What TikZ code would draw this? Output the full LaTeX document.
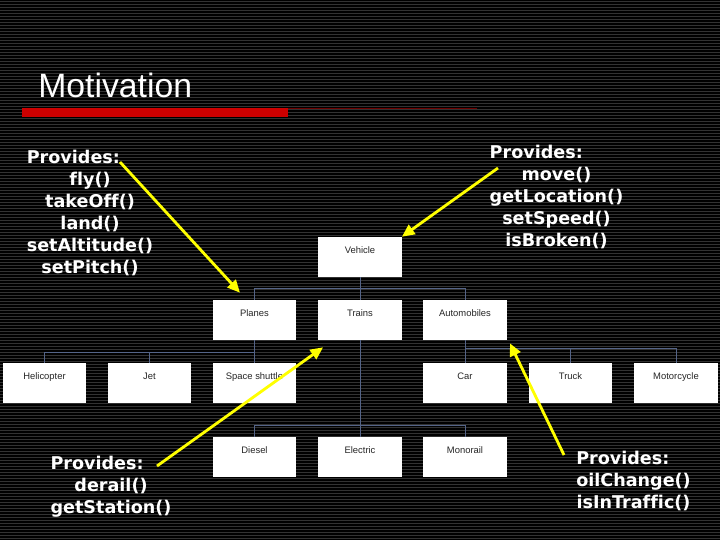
\documentclass[tikz,border=0pt]{standalone}
\usepackage{fontspec}
\usetikzlibrary{arrows.meta, calc}
\newfontfamily\boxfont{Liberation Sans}
\newfontfamily\notefont[Ligatures={NoCommon}]{DejaVu Sans}
\definecolor{stripe}{RGB}{50,50,50}
\definecolor{linkblue}{RGB}{84,100,136}
\definecolor{barred}{RGB}{204,0,0}
\definecolor{darkred}{RGB}{110,0,0}
\definecolor{hiyellow}{RGB}{255,255,0}
\newcommand{\provhead}[1]{\multicolumn{1}{@{}l@{}}{#1}}
\tikzset{
  classbox/.style={rectangle, fill=white, inner sep=0pt,
    minimum width=2.08cm, minimum height=1cm,
    text height=0.41cm, text depth=0.59cm,
    font=\boxfont\fontsize{6.7}{8}\selectfont, text=black!85},
  link/.style={color=linkblue, line width=0.7pt},
  note/.style={text=white, inner sep=0pt,
    font=\notefont\bfseries\fontsize{12.5}{15.6}\selectfont},
  hiarrow/.style={-{Triangle[length=9pt,width=8pt]}, color=hiyellow, line width=2pt}
}

\begin{document}
\begin{tikzpicture}[x=0.025cm, y=-0.025cm]
\useasboundingbox[fill=black] (0,0) rectangle (720,540);
\foreach \y in {1,4,...,539}
  \draw[stripe, line width=0.7pt] (0,\y) -- (720,\y);

% title
\node[text=white, inner sep=0pt, anchor=base west,
  font=\boxfont\fontsize{24}{28}\selectfont] (title) at (38,97) {Motivation};
\fill[barred] (22,108) rectangle (288,117);
\draw[darkred, line width=0.8pt] (288,108.5) -- (477,108.5);

% class boxes
\foreach \nm/\lbl/\x/\y in {vehicle/Vehicle/360/257,
    planes/Planes/254.5/320, trains/Trains/360/320, autos/Automobiles/465/320,
    heli/Helicopter/44.5/383, jet/Jet/149.5/383, shuttle/Space shuttle/254.5/383,
    car/Car/465/383, truck/Truck/570.5/383, moto/Motorcycle/676/383,
    diesel/Diesel/254.5/457, electric/Electric/360/457, monorail/Monorail/465/457} {
  \node[classbox] (\nm) at (\x,\y) {\lbl};
}

% hierarchy
\draw[link] (vehicle.south) -- ++(0,11) -| (planes.north);
\draw[link] (vehicle.south) -- (trains.north);
\draw[link] (vehicle.south) -- ++(0,11) -| (autos.north);
\draw[link] (planes.south) -- ++(0,12) -| (heli.north);
\draw[link] (planes.south) -- ++(0,12) -| (jet.north);
\draw[link] (planes.south) -- (shuttle.north);
\draw[link] (trains.south) -- ++(0,85) -| (diesel.north);
\draw[link] (trains.south) -- (electric.north);
\draw[link] (trains.south) -- ++(0,85) -| (monorail.north);
\draw[link] (autos.south) -- (car.north);
\draw[link] (autos.south) -- ++(0,8) -| (truck.north);
\draw[link] (autos.south) -- ++(0,8) -| (moto.north);

% notes
\node[note] (fly note) at (90,214) {\begin{tabular}{@{}c@{}}
  \provhead{Provides:}\\ fly()\\ takeOff()\\ land()\\ setAltitude()\\ setPitch()
  \end{tabular}};
\node[note] (move note) at (556.5,198) {\begin{tabular}{@{}c@{}}
  \provhead{Provides:}\\ move()\\ getLocation()\\ setSpeed()\\ isBroken()
  \end{tabular}};
\node[note] (rail note) at (111,487.5) {\begin{tabular}{@{}c@{}}
  \provhead{Provides:}\\ derail()\\ getStation()
  \end{tabular}};
\node[note] (auto note) at (633.5,482) {\begin{tabular}{@{}c@{}}
  \provhead{Provides:}\\ oilChange()\\ isInTraffic()
  \end{tabular}};

% pointers
\coordinate (fly tail) at (120,162);
\coordinate (move tail) at (498,168);
\coordinate (rail tail) at (157,466);
\coordinate (auto tail) at (564,455);
\draw[hiarrow] (fly tail) -- ($(planes.north)+(-14.5,-7)$);
\draw[hiarrow] (move tail) -- (vehicle.north east);
\draw[hiarrow] (rail tail) -- ($(trains.south west)+(5,7)$);
\draw[hiarrow] (auto tail) -- ($(autos.south east)+(3,3)$);
\end{tikzpicture}
\end{document}
